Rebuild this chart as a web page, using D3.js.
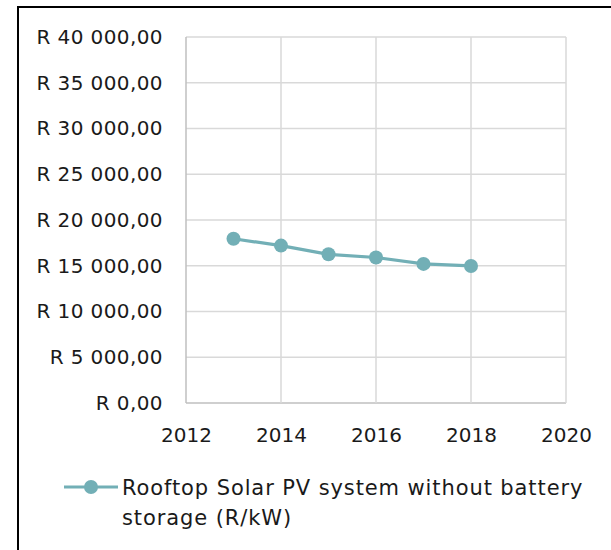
<!DOCTYPE html>
<html>
<head>
<meta charset="utf-8">
<script src="https://cdn.jsdelivr.net/npm/d3@7"></script>
<style>
  body { margin: 0; background: #fff; }
  svg text { font-family: "DejaVu Sans", sans-serif; fill: #1a1a1a; }
</style>
</head>
<body>
<div id="chart"></div>
<script>
// data
const years = [2013, 2014, 2015, 2016, 2017, 2018];
const costs = [17950, 17200, 16250, 15900, 15200, 14980];
const yTicks = [0, 5000, 10000, 15000, 20000, 25000, 30000, 35000, 40000];
const xTicks = [2012, 2014, 2016, 2018, 2020];
const seriesName = ["Rooftop Solar PV system without battery", "storage (R/kW)"];

const WIDTH = 611, HEIGHT = 550;
const MARGIN = { LEFT: 186, RIGHT: 45, TOP: 37, BOTTOM: 147 };
const innerW = WIDTH - MARGIN.LEFT - MARGIN.RIGHT;
const innerH = HEIGHT - MARGIN.TOP - MARGIN.BOTTOM;
const teal = "#72afb6";
const FONT = "'DejaVu Sans', sans-serif";

const svg = d3.select("#chart").append("svg")
  .attr("width", WIDTH)
  .attr("height", HEIGHT);

// outer frame (only top and left visible)
svg.append("path")
  .attr("d", `M18,551 V7 H611`)
  .attr("fill", "none")
  .attr("stroke", "#000")
  .attr("stroke-width", 2);

const g = svg.append("g")
  .attr("transform", `translate(${MARGIN.LEFT}, ${MARGIN.TOP})`);

const x = d3.scaleLinear().domain([2012, 2020]).range([0, innerW]);
const y = d3.scaleLinear().domain([0, 40000]).range([innerH, 0]);

// rand format: "R 40 000,00"
const fmt = (v) => "R " + d3.format(",.2f")(v).replace(/,/g, " ").replace(".", ",");

// grid
g.append("g").selectAll("line").data(yTicks).join("line")
  .attr("x1", 0).attr("x2", innerW)
  .attr("y1", (d) => y(d)).attr("y2", (d) => y(d))
  .attr("stroke", (d) => d === 0 ? "#bfbfbf" : "#d9d9d9")
  .attr("stroke-width", 1.5);
g.append("g").selectAll("line").data(xTicks).join("line")
  .attr("x1", (d) => x(d)).attr("x2", (d) => x(d))
  .attr("y1", 0).attr("y2", innerH)
  .attr("stroke", (d) => d === 2012 ? "#bfbfbf" : "#d9d9d9")
  .attr("stroke-width", 1.5);

// axes labels
const yAxisCall = d3.axisLeft(y).tickValues(yTicks).tickFormat(fmt).tickSize(0).tickPadding(23);
const yAxis = g.append("g").call(yAxisCall);
const xAxisCall = d3.axisBottom(x).tickValues(xTicks).tickFormat(d3.format("d")).tickSize(0).tickPadding(25);
const xAxis = g.append("g").attr("transform", `translate(0, ${innerH})`).call(xAxisCall);
[yAxis, xAxis].forEach((a) => {
  a.select(".domain").remove();
  a.selectAll("text").attr("font-size", 20).attr("fill", "#1a1a1a")
    .attr("font-family", FONT);
});
yAxis.selectAll("text").attr("letter-spacing", 0.4);

// line + dots
const data = years.map((yr, i) => ({ year: yr, cost: costs[i] }));
const line = d3.line().x((d) => x(d.year)).y((d) => y(d.cost));
g.append("path").datum(data)
  .attr("d", line)
  .attr("fill", "none")
  .attr("stroke", teal)
  .attr("stroke-width", 3.2);
g.selectAll("circle").data(data).join("circle")
  .attr("cx", (d) => x(d.year))
  .attr("cy", (d) => y(d.cost))
  .attr("r", 7)
  .attr("fill", teal);

// legend
const lg = svg.append("g").attr("transform", "translate(64, 487)");
lg.append("line").attr("x1", 0).attr("x2", 54).attr("y1", 0).attr("y2", 0)
  .attr("stroke", teal).attr("stroke-width", 3.2);
lg.append("circle").attr("cx", 27).attr("cy", 0).attr("r", 7).attr("fill", teal);
lg.append("text")
  .attr("x", 58).attr("y", 8)
  .attr("font-size", 21)
  .attr("letter-spacing", 0.9)
  .selectAll("tspan").data(seriesName).join("tspan")
  .attr("x", 58)
  .attr("dy", (d, i) => i === 0 ? 0 : 30)
  .text((d) => d);
</script>
</body>
</html>
